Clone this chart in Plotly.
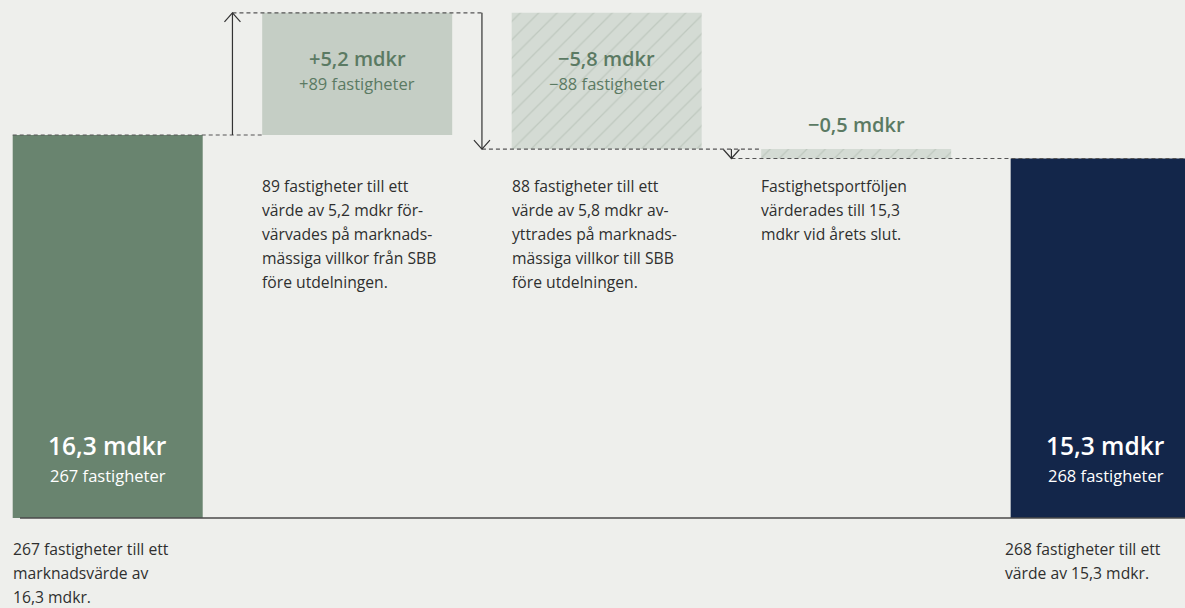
import plotly.graph_objects as go

# ---------------- data ----------------
categories = ["Ingående", "Förvärv", "Avyttring", "Värdeförändring", "Utgående"]
start_value = 16.3
changes = [5.2, -5.8, -0.4]
end_value = 15.3
value_labels = ["16,3 mdkr", "+5,2 mdkr", "\u22125,8 mdkr", "\u22120,5 mdkr", "15,3 mdkr"]
count_labels = ["267 fastigheter", "+89 fastigheter", "\u221288 fastigheter", "", "268 fastigheter"]
desc_top = [
    [],
    ["89 fastigheter till ett", "värde av 5,2 mdkr för-", "värvades på marknads-",
     "mässiga villkor från SBB", "före utdelningen."],
    ["88 fastigheter till ett", "värde av 5,8 mdkr av-", "yttrades på marknads-",
     "mässiga villkor till SBB", "före utdelningen."],
    ["Fastighetsportföljen", "värderades till 15,3", "mdkr vid årets slut."],
    [],
]
desc_bottom = [
    ["267 fastigheter till ett", "marknadsvärde av", "16,3 mdkr."],
    [], [], [],
    ["268 fastigheter till ett", "värde av 15,3 mdkr."],
]

# ---------------- styling ----------------
BG = "#eeefec"
C_START = "#69846f"
C_UP = "#c5cec5"
C_DOWN = "#d4dbd4"
C_HATCH = "#aab6aa"
C_END = "#13264a"
C_GREEN_TXT = "#5b7a63"
C_TXT = "#2f2f2f"
C_LINE = "#555555"
FONT = "Open Sans"
W = 0.7615  # bar width (category units)

# ---------------- compute waterfall geometry ----------------
xs = list(range(len(categories)))
bases, heights, levels = [0.0], [start_value], [start_value]
lvl = start_value
for d in changes:
    new = lvl + d
    bases.append(min(lvl, new))
    heights.append(abs(d))
    lvl = new
    levels.append(lvl)
bases.append(0.0)
heights.append(end_value)

fig = go.Figure()

# solid bars (start, increase, end)
solid_idx = [0, 1, 4]
solid_cols = [C_START, C_UP, C_END]
fig.add_trace(go.Bar(
    x=[xs[i] for i in solid_idx], y=[heights[i] for i in solid_idx],
    base=[bases[i] for i in solid_idx], width=W,
    marker=dict(color=solid_cols, line=dict(width=0)),
    hoverinfo="skip", showlegend=False,
))
# hatched bars (decreases)
hatch_idx = [2, 3]
fig.add_trace(go.Bar(
    x=[xs[i] for i in hatch_idx], y=[heights[i] for i in hatch_idx],
    base=[bases[i] for i in hatch_idx], width=W,
    marker=dict(color=C_DOWN, line=dict(width=0),
                pattern=dict(shape="/", fgcolor=C_HATCH, bgcolor=C_DOWN,
                             size=13, solidity=0.1)),
    hoverinfo="skip", showlegend=False,
))

shapes = []
dash = "4px,3px"
# dashed connectors
connectors = [
    (levels[0], xs[0] - W / 2, xs[1] - W / 2),
    (levels[1], xs[0] + 0.5, xs[1] + 0.5),
    (levels[2], xs[1] + 0.5, xs[3] - W / 2),
    (levels[3], xs[2] + 0.5, xs[4] + W / 2),
]
for y, x0, x1 in connectors:
    shapes.append(dict(type="line", xref="x", yref="y", x0=x0, x1=x1, y0=y, y1=y,
                       line=dict(color=C_LINE, width=1.2, dash=dash), layer="above"))

# arrows between bars
prev = levels[0]
for k, d in enumerate(changes):
    xa = xs[k] + 0.5
    new = levels[k + 1]
    shapes.append(dict(type="line", xref="x", yref="y", x0=xa, x1=xa, y0=prev, y1=new,
                       line=dict(color="#333333", width=1.2), layer="above"))
    sgn = -1 if d > 0 else 1  # arms point away from tip
    shapes.append(dict(type="path", xref="x", yref="y", xsizemode="pixel", ysizemode="pixel",
                       xanchor=xa, yanchor=new,
                       path=f"M-8,{sgn*9} L0,0 L8,{sgn*9}",
                       line=dict(color="#333333", width=1.2), layer="above"))
    prev = new

# baseline
shapes.append(dict(type="line", xref="paper", yref="y", x0=20 / 1185, x1=1, y0=0, y1=0,
                   line=dict(color="#4a4a4a", width=1.5), layer="above"))

annotations = []
# values inside start / end bars
for i in (0, 4):
    annotations.append(dict(x=xs[i], y=0, xref="x", yref="y", text=value_labels[i],
                            showarrow=False, yshift=73, yanchor="middle",
                            font=dict(family=FONT, size=24.5, color="white", weight=600)))
    annotations.append(dict(x=xs[i], y=0, xref="x", yref="y", text=count_labels[i],
                            showarrow=False, yshift=43, yanchor="middle",
                            font=dict(family=FONT, size=16.5, color="white")))
# values inside change bars
top_level = levels[1]
for i in (1, 2):
    annotations.append(dict(x=xs[i], y=top_level, xref="x", yref="y", text=value_labels[i],
                            showarrow=False, yshift=-46, yanchor="middle",
                            font=dict(family=FONT, size=20, color=C_GREEN_TXT, weight=600)))
    annotations.append(dict(x=xs[i], y=top_level, xref="x", yref="y", text=count_labels[i],
                            showarrow=False, yshift=-71, yanchor="middle",
                            font=dict(family=FONT, size=16.5, color=C_GREEN_TXT)))
# small change label above bar
annotations.append(dict(x=xs[3], y=bases[3] + heights[3], xref="x", yref="y",
                        text=value_labels[3], showarrow=False, yshift=25, yanchor="middle",
                        font=dict(family=FONT, size=20, color=C_GREEN_TXT, weight=600)))

# descriptions under change bars
for i, lines in enumerate(desc_top):
    for j, line in enumerate(lines):
        annotations.append(dict(x=xs[i] - W / 2, y=start_value, xref="x", yref="y",
                                text=line, showarrow=False, xanchor="left", yanchor="middle",
                                yshift=-51 - 24 * j, xshift=-2,
                                font=dict(family=FONT, size=15.7, color=C_TXT)))
# descriptions below baseline
for i, lines in enumerate(desc_bottom):
    for j, line in enumerate(lines):
        annotations.append(dict(x=xs[i] - W / 2, y=0, xref="x", yref="y",
                                text=line, showarrow=False, xanchor="left", yanchor="middle",
                                yshift=-31 - 24 * j, xshift=(-2 if i == 0 else -8),
                                font=dict(family=FONT, size=15.7, color=C_TXT)))

fig.update_layout(
    width=1185, height=608,
    margin=dict(l=0, r=0, t=0, b=0),
    paper_bgcolor=BG, plot_bgcolor=BG,
    barmode="overlay",
    xaxis=dict(range=[-0.4317, 4.318], visible=False, fixedrange=True),
    yaxis=dict(range=[-3.830, 22.045], visible=False, fixedrange=True),
    shapes=shapes, annotations=annotations,
    showlegend=False,
)

fig.write_html("out.html", include_plotlyjs=True, config={"displayModeBar": False})
